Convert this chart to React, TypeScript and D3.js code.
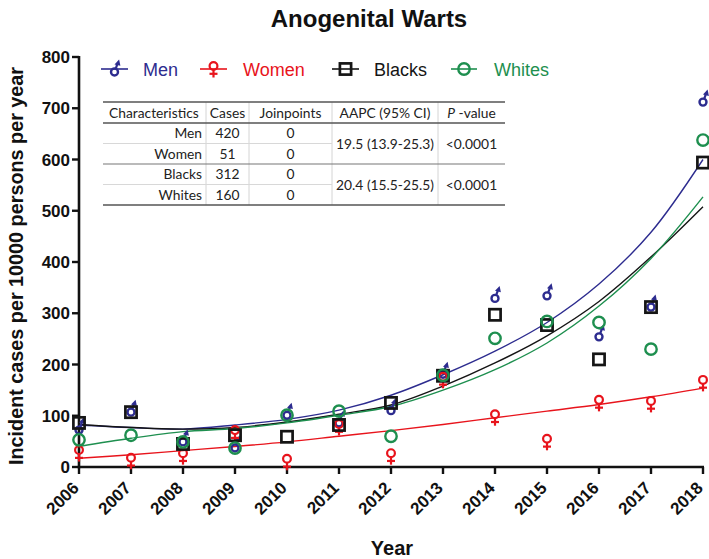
import React from "react";
import * as d3 from "d3";

const years = [2006, 2007, 2008, 2009, 2010, 2011, 2012, 2013, 2014, 2015, 2016, 2017, 2018];
const menValues = [72, 107, 49, 37, 101, 86, 110, 181, 329, 334, 254, 312, 712];
const womenValues = [33, 18, 27, 72, 16, 84, 27, 176, 103, 55, 131, 129, 170];
const blacksValues = [86, 107, 45, 62, 59, 82, 125, 178, 297, 277, 210, 312, 594];
const whitesValues = [53, 62, 49, 37, 101, 109, 60, 179, 251, 284, 282, 230, 638];

const menFit = [82, 77, 74, 82, 93, 111, 140, 180, 226, 282, 357, 458, 600];
const womenFit = [17, 24, 32, 40, 49, 60, 71, 83, 96, 109, 122, 137, 154];
const blacksFit = [83, 77, 74, 77, 88, 103, 121, 158, 203, 256, 323, 410, 508];
const whitesFit = [40, 56, 69, 75, 86, 101, 118, 150, 190, 242, 314, 407, 527];

const yTicks = [0, 100, 200, 300, 400, 500, 600, 700, 800];

const tableHeader = ["Characteristics", "Cases", "Joinpoints", "AAPC (95% CI)", "P-value"];
const tableNames = ["Men", "Women", "Blacks", "Whites"];
const tableCases = ["420", "51", "312", "160"];
const tableJoinpoints = ["0", "0", "0", "0"];
const tableAapc = ["19.5 (13.9-25.3)", "20.4 (15.5-25.5)"];
const tablePvalues = ["<0.0001", "<0.0001"];

const NAVY = "#2d2c8f";
const RED = "#e8141c";
const BLACK = "#151515";
const GREEN = "#1e8f4f";

function MaleMarker({ x, y, c }: { x: number; y: number; c: string }) {
  return (
    <g transform={`translate(${x},${y})`}>
      <circle r={3.5} fill="none" stroke={c} strokeWidth={2.4} />
      <line x1={1.2} y1={-3.2} x2={2.8} y2={-7.8} stroke={c} strokeWidth={2.2} />
      <path d="M4.6,-12.5 L0,-7.6 L5.9,-6.2 Z" fill={c} />
    </g>
  );
}

function FemaleMarker({ x, y, c }: { x: number; y: number; c: string }) {
  return (
    <g transform={`translate(${x},${y})`}>
      <circle r={3.9} fill="none" stroke={c} strokeWidth={2.2} />
      <line x1={0} y1={3.9} x2={0} y2={11.5} stroke={c} strokeWidth={2.2} />
      <line x1={-4} y1={7.8} x2={4} y2={7.8} stroke={c} strokeWidth={2.2} />
    </g>
  );
}

function SquareMarker({ x, y, c }: { x: number; y: number; c: string }) {
  return <rect x={x - 5.6} y={y - 5.6} width={11.2} height={11.2} fill="none" stroke={c} strokeWidth={2.7} />;
}

function CircleMarker({ x, y, c }: { x: number; y: number; c: string }) {
  return <circle cx={x} cy={y} r={5.7} fill="none" stroke={c} strokeWidth={2.4} />;
}

export default function App() {
  const W = 709;
  const H = 559;
  const x = d3.scaleLinear().domain([2006, 2018]).range([79, 703]);
  const y = d3.scaleLinear().domain([0, 800]).range([467, 57]);

  const line = d3
    .line<number>()
    .x((_, i) => x(years[i]))
    .y((d) => y(d))
    .curve(d3.curveCatmullRom.alpha(0.5));

  const series = [
    { name: "Men", values: menValues, fit: menFit, color: NAVY, M: MaleMarker },
    { name: "Women", values: womenValues, fit: womenFit, color: RED, M: FemaleMarker },
    { name: "Blacks", values: blacksValues, fit: blacksFit, color: BLACK, M: SquareMarker },
    { name: "Whites", values: whitesValues, fit: whitesFit, color: GREEN, M: CircleMarker },
  ];

  const legendItems = [
    { name: "Men", color: NAVY, x1: 101, x2: 128, tx: 143, M: MaleMarker, dy: 3 },
    { name: "Women", color: RED, x1: 200, x2: 227, tx: 243, M: FemaleMarker, dy: -3 },
    { name: "Blacks", color: BLACK, x1: 332, x2: 359, tx: 374, M: SquareMarker, dy: 0 },
    { name: "Whites", color: GREEN, x1: 451, x2: 477, tx: 494, M: CircleMarker, dy: 0 },
  ];

  const tLeft = 103;
  const tRight = 505;
  const colX = [103, 206, 249, 332, 438, 505];
  const rowY = [102, 123, 143.5, 164, 184.5, 205];
  const fontT = "Lato, 'Open Sans', sans-serif";
  const tfs = 13.8;
  const axisFont = "'Liberation Sans', Arial, sans-serif";

  return (
    <svg width={W} height={H} style={{ position: "absolute", left: 0, top: 0, background: "#fff" }}>
      <rect width={W} height={H} fill="#fff" />
      <text x={369} y={27} textAnchor="middle" fontFamily={axisFont} fontWeight="bold" fontSize={24} fill="#111">
        Anogenital Warts
      </text>

      {/* Y axis */}
      <line x1={79} x2={79} y1={y(800) - 1} y2={y(0) + 1.2} stroke="#111" strokeWidth={2.6} />
      {yTicks.map((t) => (
        <g key={t}>
          <line x1={72} x2={79} y1={y(t)} y2={y(t)} stroke="#111" strokeWidth={2.4} />
          <text x={70} y={y(t) + 6} textAnchor="end" fontFamily={axisFont} fontWeight="bold" fontSize={17} fill="#111">
            {t}
          </text>
        </g>
      ))}
      <text
        transform={`translate(23,266) rotate(-90)`}
        textAnchor="middle"
        fontFamily={axisFont}
        fontWeight="bold"
        fontSize={19.8}
        fill="#111"
      >
        Incident cases per 10000 persons per year
      </text>

      {/* X axis */}
      <line x1={x(2006) - 1.2} x2={x(2018) + 1} y1={467} y2={467} stroke="#111" strokeWidth={2.6} />
      {years.map((yr) => (
        <g key={yr}>
          <line x1={x(yr)} x2={x(yr)} y1={467} y2={474} stroke="#111" strokeWidth={2.4} />
          <text
            transform={`translate(${x(yr) + 1},${489}) rotate(-45)`}
            textAnchor="end"
            fontFamily={axisFont}
            fontWeight="bold"
            fontSize={17}
            fill="#111"
          >
            {yr}
          </text>
        </g>
      ))}
      <text x={392} y={555} textAnchor="middle" fontFamily={axisFont} fontWeight="bold" fontSize={20} fill="#111">
        Year
      </text>

      {series.map((s) => (
        <path key={s.name + "fit"} d={line(s.fit) || ""} fill="none" stroke={s.color} strokeWidth={1.4} />
      ))}

      {series.map((s) => (
        <g key={s.name + "pts"}>
          {s.values.map((v, i) => (
            <s.M key={i} x={x(years[i])} y={y(v)} c={s.color} />
          ))}
        </g>
      ))}

      {legendItems.map((l) => (
        <g key={l.name}>
          <line x1={l.x1} x2={l.x2} y1={69} y2={69} stroke={l.color} strokeWidth={1.6} />
          <l.M x={(l.x1 + l.x2) / 2} y={69 + l.dy} c={l.color} />
          <text x={l.tx} y={75.5} fontFamily={axisFont} fontSize={18} fill={l.color}>
            {l.name}
          </text>
        </g>
      ))}

      <g fontFamily={fontT} fontSize={tfs} fill="#222">
        {colX.slice(1, 5).map((cx, i) => (
          <line key={"v" + i} x1={cx} x2={cx} y1={rowY[0]} y2={rowY[5]} stroke="#d4d4d4" strokeWidth={1} />
        ))}
        <line x1={tLeft} x2={colX[3]} y1={rowY[2]} y2={rowY[2]} stroke="#d8d8d8" strokeWidth={1} />
        <line x1={tLeft} x2={colX[3]} y1={rowY[4]} y2={rowY[4]} stroke="#d8d8d8" strokeWidth={1} />
        <line x1={tLeft} x2={tRight} y1={rowY[0]} y2={rowY[0]} stroke="#555" strokeWidth={1.3} />
        <line x1={tLeft} x2={tRight} y1={rowY[1]} y2={rowY[1]} stroke="#555" strokeWidth={1.3} />
        <line x1={tLeft} x2={tRight} y1={rowY[3]} y2={rowY[3]} stroke="#777" strokeWidth={1.2} />
        <line x1={tLeft} x2={tRight} y1={rowY[5]} y2={rowY[5]} stroke="#555" strokeWidth={1.3} />

        <text x={109} y={rowY[0] + 15.5}>{tableHeader[0]}</text>
        <text x={(colX[1] + colX[2]) / 2} y={rowY[0] + 15.5} textAnchor="middle">{tableHeader[1]}</text>
        <text x={(colX[2] + colX[3]) / 2} y={rowY[0] + 15.5} textAnchor="middle">{tableHeader[2]}</text>
        <text x={(colX[3] + colX[4]) / 2} y={rowY[0] + 15.5} textAnchor="middle">{tableHeader[3]}</text>
        <text x={(colX[4] + colX[5]) / 2} y={rowY[0] + 15.5} textAnchor="middle">
          <tspan fontStyle="italic">P</tspan>
          <tspan> -value</tspan>
        </text>

        {tableNames.map((n, i) => (
          <g key={n}>
            <text x={202} y={rowY[i + 1] + 15} textAnchor="end">{n}</text>
            <text x={(colX[1] + colX[2]) / 2} y={rowY[i + 1] + 15} textAnchor="middle">{tableCases[i]}</text>
            <text x={(colX[2] + colX[3]) / 2} y={rowY[i + 1] + 15} textAnchor="middle">{tableJoinpoints[i]}</text>
          </g>
        ))}
        {tableAapc.map((a, i) => (
          <g key={a}>
            <text x={(colX[3] + colX[4]) / 2} y={rowY[1 + i * 2] + 25.5} textAnchor="middle">{a}</text>
            <text x={(colX[4] + colX[5]) / 2} y={rowY[1 + i * 2] + 25.5} textAnchor="middle">{tablePvalues[i]}</text>
          </g>
        ))}
      </g>
    </svg>
  );
}
